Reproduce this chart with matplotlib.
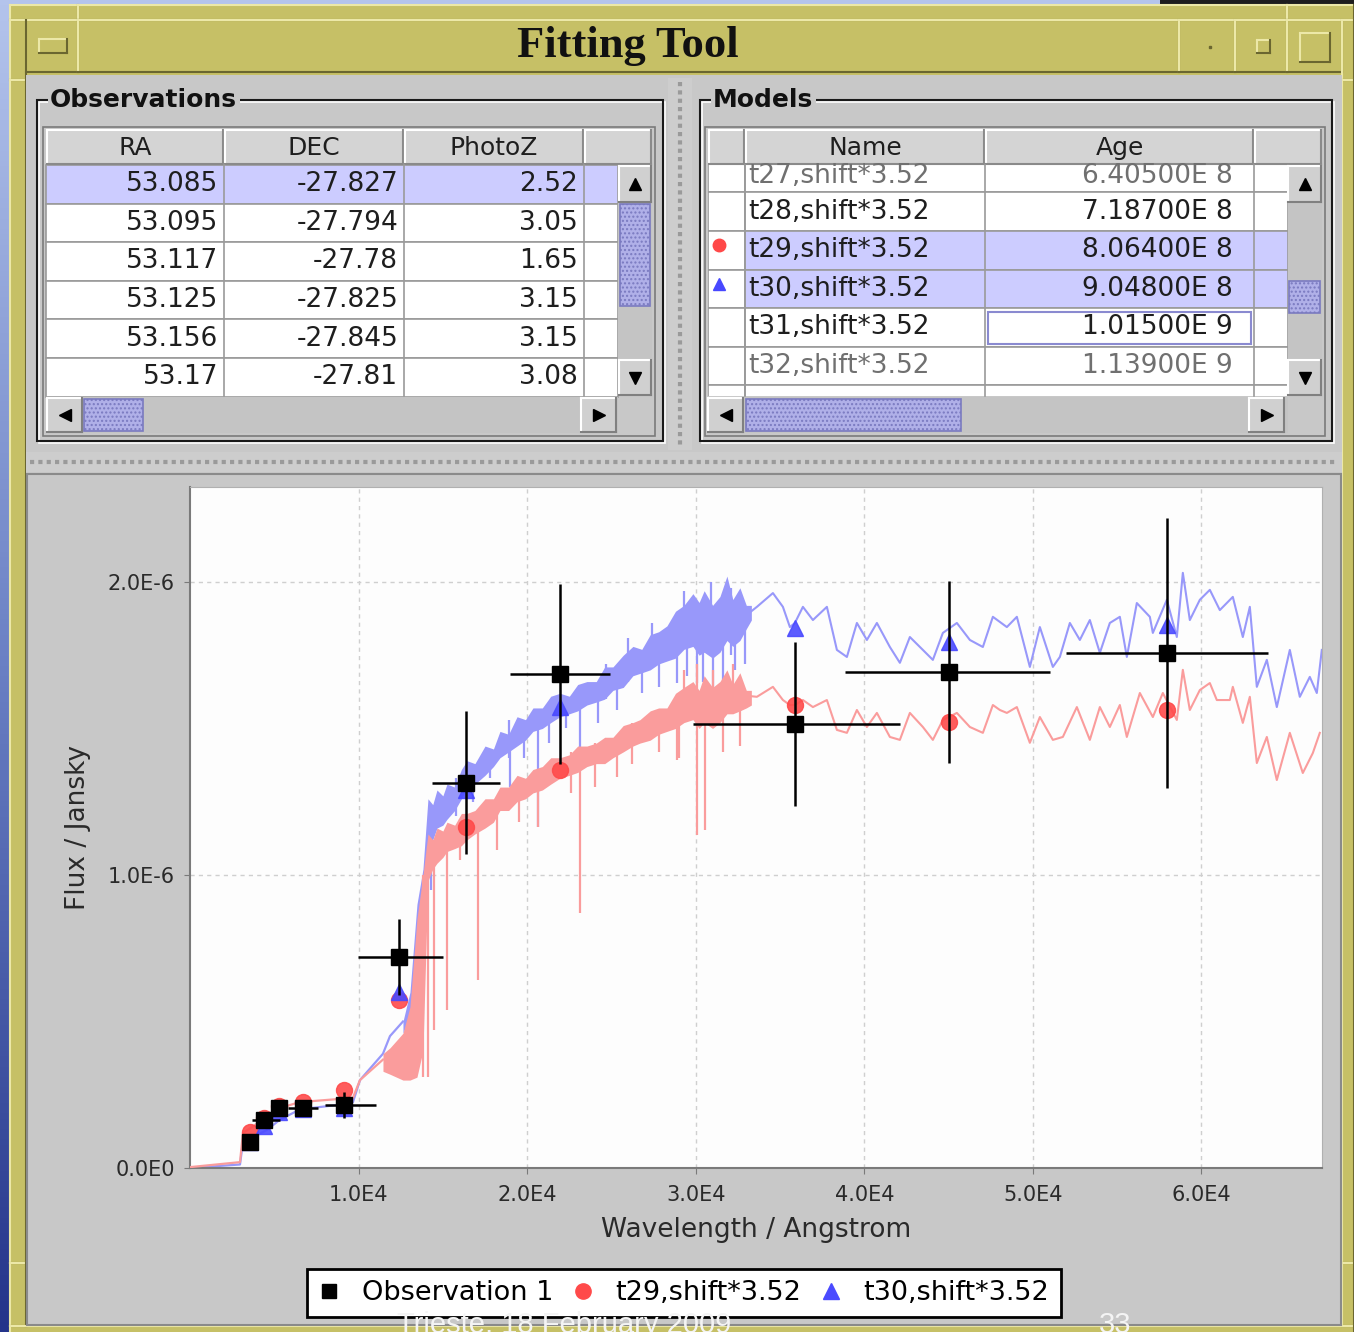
import matplotlib.pyplot as plt
import matplotlib.patches as mpatches
from matplotlib.colors import LinearSegmentedColormap
from matplotlib.lines import Line2D
import numpy as np

# ---------------- table contents ----------------
obs_cols = ['RA', 'DEC', 'PhotoZ']
obs_ra = [53.085, 53.095, 53.117, 53.125, 53.156, 53.17]
obs_dec = [-27.827, -27.794, -27.78, -27.825, -27.845, -27.81]
obs_photoz = [2.52, 3.05, 1.65, 3.15, 3.15, 3.08]

model_cols = ['Name', 'Age']
model_names = ['t27,shift*3.52', 't28,shift*3.52', 't29,shift*3.52',
               't30,shift*3.52', 't31,shift*3.52', 't32,shift*3.52']
model_ages = ['6.40500E 8', '7.18700E 8', '8.06400E 8',
              '9.04800E 8', '1.01500E 9', '1.13900E 9']

# ---------------- photometry (Angstrom, 1e-6 Jy) ----------------
obs_wave = [3559, 4389, 5279, 6702, 9134, 12396, 16370, 21945, 35884, 45018, 57948]
obs_flux = [0.089, 0.164, 0.205, 0.205, 0.215, 0.720, 1.314, 1.686, 1.515, 1.693, 1.758]
obs_xlo = [0, 700, 400, 900, 1130, 2450, 2000, 2960, 6050, 6170, 5990]
obs_xhi = [0, 950, 500, 900, 1900, 2600, 2000, 2960, 6230, 5990, 5990]
obs_ferr = [0.015, 0.02, 0.025, 0.02, 0.045, 0.13, 0.244, 0.307, 0.28, 0.31, 0.46]

t29_phot = [0.123, 0.17, 0.21, 0.225, 0.266, 0.573, 1.164, 1.358, 1.580, 1.522, 1.563]
t30_phot = [0.09, 0.145, 0.19, 0.20, 0.205, 0.60, 1.29, 1.573, 1.843, 1.795, 1.853]

# ---------------- model spectra ----------------
# blue : t30
t30_low_wave = [0, 2966, 3143, 3559, 4567, 5338, 6524, 8719, 9668, 10083, 11447, 11862, 12633]
t30_low_flux = [0.0, 0.012, 0.09, 0.10, 0.13, 0.165, 0.20, 0.215, 0.225, 0.30, 0.39, 0.45, 0.50]
t30_band_wave = [12633, 13048, 13463, 13819, 14116, 14400, 14650, 15000, 15243, 15700, 16100,
                 16429, 16900, 17500, 18000, 18386, 18900, 19400, 19900, 20343, 20900, 21400,
                 21945, 22500, 23000, 23546, 24100, 24600, 25088, 25700, 26274, 26800, 27300,
                 27800, 28291, 28800, 29300, 29833, 30200, 30500, 31000, 31434, 31850, 32200,
                 32620, 33000, 33300]
t30_band_hi = [0.50, 0.60, 0.90, 1.02, 1.26, 1.24, 1.29, 1.27, 1.31, 1.30, 1.36,
               1.39, 1.38, 1.44, 1.43, 1.49, 1.48, 1.54, 1.53, 1.57, 1.57, 1.61,
               1.62, 1.61, 1.65, 1.66, 1.66, 1.71, 1.71, 1.75, 1.78, 1.77, 1.82,
               1.83, 1.85, 1.90, 1.92, 1.96, 1.93, 1.97, 1.92, 1.95, 2.02, 1.94,
               1.98, 1.92, 1.92]
t30_band_lo = [0.46, 0.52, 0.78, 0.90, 1.10, 1.12, 1.16, 1.17, 1.19, 1.22, 1.26,
               1.30, 1.31, 1.34, 1.37, 1.40, 1.42, 1.44, 1.46, 1.49, 1.50, 1.52,
               1.54, 1.55, 1.56, 1.58, 1.59, 1.60, 1.63, 1.64, 1.68, 1.69, 1.70,
               1.72, 1.73, 1.74, 1.77, 1.78, 1.75, 1.76, 1.74, 1.76, 1.80, 1.78,
               1.80, 1.84, 1.87]
t30_spike_wave = [14300, 15800, 16800, 17800, 18900, 19000, 19800, 20640, 21300, 22300,
                  23131, 24200, 24700, 25325, 26000, 26800, 27400, 27800, 28884, 29300,
                  29500, 30070, 30426, 30900, 31000, 31612, 32100, 32300, 32900]
t30_spike_lo = [0.95, 1.20, 1.25, 1.33, 1.40, 1.30, 1.40, 1.164, 1.45, 1.50,
                1.392, 1.52, 1.60, 1.563, 1.66, 1.62, 1.72, 1.64, 1.655, 1.80,
                1.68, 1.655, 1.66, 1.78, 1.62, 1.666, 1.75, 1.70, 1.72]
t30_spike_hi = [1.20, 1.33, 1.38, 1.42, 1.53, 1.48, 1.50, 1.52, 1.58, 1.60,
                1.62, 1.64, 1.72, 1.70, 1.81, 1.76, 1.86, 1.80, 1.82, 1.97,
                1.85, 1.90, 1.92, 2.00, 1.80, 1.95, 1.98, 1.92, 1.90]
t30_spec_wave = [33300, 33629, 34578, 35171, 35586, 35883, 36358, 36951, 37780, 38374, 38967,
                 39560, 40153, 40746, 41517, 42110, 42703, 43474, 44067, 44660, 45491, 46262,
                 47033, 47626, 48456, 49049, 49820, 50414, 51185, 51600, 52193, 52786, 53379,
                 53972, 54565, 55158, 55573, 56166, 56938, 57116, 57946, 58539, 58895, 59310,
                 59903, 60496, 61089, 61860, 62453, 62869, 63284, 63877, 64470, 65241, 65834,
                 66427, 66842, 67139]
t30_spec_flux = [1.90, 1.915, 1.962, 1.915, 1.846, 1.860, 1.915, 1.870, 1.915, 1.768, 1.744,
                 1.860, 1.802, 1.860, 1.778, 1.724, 1.812, 1.768, 1.734, 1.826, 1.860, 1.802,
                 1.778, 1.881, 1.846, 1.881, 1.710, 1.846, 1.710, 1.744, 1.860, 1.802, 1.870,
                 1.758, 1.860, 1.881, 1.744, 1.928, 1.881, 1.826, 1.939, 1.812, 2.031, 1.870,
                 1.939, 1.973, 1.904, 1.949, 1.812, 1.915, 1.642, 1.734, 1.573, 1.768, 1.608,
                 1.676, 1.621, 1.768]

# red : t29
t29_low_wave = [0, 2966, 3143, 3559, 4567, 5338, 6524, 8719, 9668, 10083, 11447]
t29_low_flux = [0.003, 0.02, 0.12, 0.135, 0.175, 0.205, 0.225, 0.235, 0.24, 0.30, 0.37]
t29_band_wave = [11447, 11862, 12633, 13048, 13463, 13819, 14116, 14400, 14650, 15000, 15243,
                 15700, 16100, 16429, 16900, 17500, 18000, 18386, 18900, 19400, 19900, 20343,
                 20900, 21400, 21945, 22500, 23000, 23546, 24100, 24600, 25088, 25700, 26274,
                 26690, 27300, 27800, 28291, 28800, 29300, 29833, 30200, 30500, 31000, 31434,
                 31850, 32200, 32620, 33000, 33300]
t29_band_hi = [0.39, 0.41, 0.46, 0.55, 0.85, 1.00, 1.14, 1.12, 1.16, 1.15, 1.18,
               1.17, 1.21, 1.21, 1.22, 1.26, 1.26, 1.30, 1.30, 1.34, 1.33, 1.36,
               1.37, 1.40, 1.40, 1.41, 1.44, 1.44, 1.45, 1.47, 1.47, 1.51, 1.52,
               1.53, 1.56, 1.57, 1.57, 1.62, 1.64, 1.66, 1.63, 1.68, 1.64, 1.66,
               1.70, 1.65, 1.69, 1.63, 1.63]
t29_band_lo = [0.33, 0.32, 0.30, 0.30, 0.31, 0.40, 0.98, 1.02, 1.04, 1.06, 1.08,
               1.09, 1.10, 1.12, 1.14, 1.16, 1.18, 1.22, 1.22, 1.25, 1.26, 1.28,
               1.29, 1.31, 1.33, 1.34, 1.35, 1.37, 1.38, 1.38, 1.40, 1.42, 1.44,
               1.45, 1.46, 1.48, 1.49, 1.50, 1.52, 1.53, 1.50, 1.52, 1.50, 1.52,
               1.55, 1.55, 1.56, 1.57, 1.58]
t29_spike_wave = [13819, 14116, 14500, 15243, 16000, 17081, 18208, 19500, 20640, 22600,
                  23131, 24000, 25325, 26200, 27800, 28884, 29000, 29300, 30070, 30100,
                  30545, 31000, 31612, 32200, 32620]
t29_spike_lo = [0.31, 0.31, 0.47, 0.54, 1.05, 0.64, 1.085, 1.18, 1.164, 1.28,
                0.87, 1.30, 1.334, 1.38, 1.42, 1.392, 1.40, 1.55, 1.137, 1.55,
                1.154, 1.55, 1.42, 1.58, 1.44]
t29_spike_hi = [1.00, 1.10, 1.12, 1.15, 1.19, 1.20, 1.26, 1.32, 1.33, 1.42,
                1.40, 1.45, 1.46, 1.52, 1.56, 1.56, 1.60, 1.70, 1.62, 1.72,
                1.62, 1.70, 1.62, 1.72, 1.64]
t29_spec_wave = [33300, 33629, 34578, 35171, 35586, 35883, 36358, 36951, 37780, 38374, 38967,
                 39560, 40153, 40746, 41517, 42110, 42703, 43474, 44067, 44660, 45491, 46262,
                 47033, 47626, 48041, 48456, 49049, 49820, 50414, 51185, 51778, 52608, 53379,
                 53972, 54565, 55158, 55573, 56345, 57116, 57709, 58539, 58895, 59310, 59903,
                 60496, 60911, 61682, 61860, 62453, 62869, 63284, 63877, 64470, 65241, 66012,
                 66605, 67020]
t29_spec_flux = [1.61, 1.608, 1.642, 1.597, 1.580, 1.580, 1.597, 1.573, 1.597, 1.495, 1.485,
                 1.563, 1.505, 1.553, 1.471, 1.461, 1.553, 1.505, 1.461, 1.529, 1.553, 1.505,
                 1.485, 1.580, 1.563, 1.553, 1.573, 1.451, 1.539, 1.461, 1.471, 1.573, 1.461,
                 1.573, 1.505, 1.580, 1.471, 1.621, 1.539, 1.621, 1.529, 1.700, 1.563, 1.631,
                 1.655, 1.597, 1.597, 1.642, 1.519, 1.608, 1.382, 1.471, 1.324, 1.485, 1.348,
                 1.416, 1.485]

x_ticks = [10000, 20000, 30000, 40000, 50000, 60000]
x_ticklabels = ['1.0E4', '2.0E4', '3.0E4', '4.0E4', '5.0E4', '6.0E4']
y_ticks = [0.0, 1.0, 2.0]
y_ticklabels = ['0.0E0', '1.0E-6', '2.0E-6']

# ---------------- window chrome ----------------
W, H = 1354, 1332
fig = plt.figure(figsize=(W / 100, H / 100), dpi=100)
bg = fig.add_axes([0, 0, 1, 1])

GRAY = '#c8c8c8'
OLIVE = '#c6c066'
OL_HI = '#ece8a8'
OL_LO = '#6a6630'
LAV = '#ccccff'
BLUE_C = '#9898fa'
RED_C = '#fa9c9c'


def rect(x0, y0, x1, y1, fc, ec='none', lw=1.0, z=1, **kw):
    p = mpatches.Rectangle((x0, y0), x1 - x0, y1 - y0, facecolor=fc, edgecolor=ec,
                           linewidth=lw, zorder=z, **kw)
    bg.add_patch(p)
    return p


def bevel(x0, y0, x1, y1, fc, hi, lo, z=1, lw=1.5):
    rect(x0, y0, x1, y1, fc, z=z)
    bg.plot([x0, x1], [y0, y0], color=hi, lw=lw, zorder=z + 0.1)
    bg.plot([x0, x0], [y0, y1], color=hi, lw=lw, zorder=z + 0.1)
    bg.plot([x0, x1], [y1, y1], color=lo, lw=lw, zorder=z + 0.1)
    bg.plot([x1, x1], [y0, y1], color=lo, lw=lw, zorder=z + 0.1)


def button(x0, y0, x1, y1, arrow=None, z=3):
    bevel(x0, y0, x1, y1, '#d0d0d0', 'white', '#808080', z=z)
    if arrow:
        bg.plot((x0 + x1) / 2, (y0 + y1) / 2, marker=arrow, color='black', ms=8, zorder=z + 1)


def thumb(x0, y0, x1, y1, z=3):
    rect(x0, y0, x1, y1, '#b0b0e8', ec='#7a7ac0', lw=1.2, z=z, hatch='....')


# desktop behind the window
desk = LinearSegmentedColormap.from_list('desk', ['#b4c4ec', '#6a80c4', '#24348a'])
bg.imshow(np.linspace(0, 1, 256)[:, None], extent=(0, W, H, 0), cmap=desk, aspect='auto', zorder=0)
rect(1160, 0, W, 5, '#1e1e1e', z=0.5)

# olive frame + title bar
rect(10, 5, W, H, OLIVE, z=1)
for a, b in [(10, 78), (78, 1287), (1287, W)]:
    bevel(a, 5, b, 20, OLIVE, OL_HI, OL_LO, z=1.2)
for a, b in [(26, 78), (78, 1179), (1179, 1235), (1235, 1287), (1287, 1342)]:
    bevel(a, 20, b, 72, OLIVE, OL_HI, OL_LO, z=1.2)
for a, b in [(20, 80), (80, 1263), (1263, 1326)]:
    bevel(10, a, 26, b, OLIVE, OL_HI, OL_LO, z=1.2)
    bevel(1342, a, W, b, OLIVE, OL_HI, OL_LO, z=1.2)
bevel(10, 1326, W, H + 2, OLIVE, OL_HI, OL_LO, z=1.2)
bevel(39, 39, 67, 53, OLIVE, OL_HI, OL_LO, z=1.5)
bg.plot(1210, 47, marker='s', ms=2, color=OL_LO, zorder=2)
bevel(1257, 40, 1270, 53, OLIVE, OL_HI, OL_LO, z=1.5)
bevel(1300, 33, 1330, 62, OLIVE, OL_HI, OL_LO, z=1.5)
bg.text(628, 46, 'Fitting Tool', ha='center', va='center', fontsize=32, fontweight='bold',
        family='Liberation Serif', color='#111111', zorder=3)

# content area
rect(26, 75, 1342, 1326, GRAY, z=1.5)
rect(668, 78, 692, 450, '#cdcdcd', z=1.6)
bg.plot([680, 680], [82, 448], color='#9a9a9a', lw=3, ls=(0, (1, 1)), zorder=1.7)
rect(26, 452, 1342, 472, '#cdcdcd', z=1.6)
bg.plot([30, 1338], [462, 462], color='#9a9a9a', lw=3, ls=(0, (1, 1)), zorder=1.7)
rect(27, 474, 1341, 1325, GRAY, ec='#8a8a8a', lw=1.5, z=1.6)


def panel(x0, y0, x1, y1, title):
    rect(x0 + 1.5, y0 + 1.5, x1 + 1.5, y1 + 1.5, 'none', ec='white', lw=1.2, z=2)
    rect(x0, y0, x1, y1, 'none', ec='#1a1a1a', lw=1.5, z=2.1)
    bg.text(x0 + 13, y0, title, ha='left', va='center', fontsize=18, fontweight='bold',
            color='#111111', zorder=2.5,
            bbox=dict(boxstyle='square,pad=0.1', fc=GRAY, ec='none'))


panel(37, 100, 663, 441, 'Observations')
panel(700, 100, 1332, 441, 'Models')

TXT = '#1e1e1e'
CELL_FS = 19

# ---- observations table
rect(43, 127, 655, 436, GRAY, ec='#7a7a7a', lw=1.2, z=2.2)
obs_edges = [46, 224, 404, 584, 652]
for i in range(4):
    bevel(obs_edges[i] + 1, 130, obs_edges[i + 1] - 1, 164, '#d4d4d4', 'white', '#8a8a8a', z=2.4)
    if i < 3:
        bg.text((obs_edges[i] + obs_edges[i + 1]) / 2, 148, obs_cols[i], ha='center',
                va='center', fontsize=18, color=TXT, zorder=3)
row_h = 38.6
obs_rows = list(zip(obs_ra, obs_dec, obs_photoz))
for r, vals in enumerate(obs_rows):
    y0 = 165 + r * row_h
    rect(46, y0, 618, y0 + row_h, LAV if r == 0 else 'white', ec='#9a9a9a', lw=1.2, z=2.4)
    for c in range(3):
        bg.text(obs_edges[c + 1] - 6, y0 + row_h / 2, str(vals[c]), ha='right', va='center',
                fontsize=CELL_FS, color=TXT, zorder=3)
for xe in obs_edges[1:4]:
    bg.plot([xe, xe], [165, 396], color='#9a9a9a', lw=1.2, zorder=2.6)
rect(618, 165, 652, 396, '#c4c4c4', z=2.4)
button(619, 166, 651, 202, '^')
thumb(620, 204, 650, 306)
button(619, 360, 651, 395, 'v')
rect(46, 397, 618, 433, '#c4c4c4', z=2.4)
button(47, 398, 82, 432, '<')
thumb(84, 399, 143, 431)
button(581, 398, 616, 432, '>')

# ---- models table
rect(705, 127, 1325, 436, GRAY, ec='#7a7a7a', lw=1.2, z=2.2)
mod_edges = [708, 745, 985, 1254, 1322]
for i in range(4):
    bevel(mod_edges[i] + 1, 130, mod_edges[i + 1] - 1, 164, '#d4d4d4', 'white', '#8a8a8a', z=2.4)
    if i in (1, 2):
        bg.text((mod_edges[i] + mod_edges[i + 1]) / 2, 148, model_cols[i - 1], ha='center',
                va='center', fontsize=18, color=TXT, zorder=3)
view = mpatches.Rectangle((708, 165), 580, 231, transform=bg.transData, facecolor='none')
rect(708, 165, 1288, 396, 'white', z=2.3)
first_line = 192.3
for r in range(len(model_names) + 1):
    y0 = first_line + (r - 1) * row_h
    sel = r in (2, 3)
    p = rect(708, y0, 745, y0 + row_h, 'white', ec='#9a9a9a', lw=1.2, z=2.4)
    p.set_clip_path(view)
    p = rect(745, y0, 1288, y0 + row_h, LAV if sel else 'white', ec='#9a9a9a', lw=1.2, z=2.4)
    p.set_clip_path(view)
    if r >= len(model_names):
        continue
    col = '#707070' if r in (0, 5) else TXT
    ty = y0 + row_h / 2 + (3 if r == 0 else 0)
    t = bg.text(748, ty, model_names[r], ha='left', va='center',
                fontsize=CELL_FS, color=col, zorder=3)
    t.set_clip_path(view)
    t = bg.text(1233, ty, model_ages[r], ha='right', va='center',
                fontsize=CELL_FS, color=col, zorder=3)
    t.set_clip_path(view)
for xe in mod_edges[1:4]:
    bg.plot([xe, xe], [165, 396], color='#9a9a9a', lw=1.2, zorder=2.6)
rect(988, 312, 1251, 344, 'none', ec='#8a8ad0', lw=1.5, z=2.7)
bg.plot(719, 245, marker='o', ms=9, color='#ff4848', zorder=3)
bg.plot(719, 284, marker='^', ms=9, color='#4848ff', zorder=3)
rect(1288, 165, 1322, 396, '#c4c4c4', z=2.4)
button(1288, 166, 1321, 202, '^')
thumb(1289, 281, 1320, 313)
button(1288, 360, 1321, 395, 'v')
rect(708, 397, 1288, 433, '#c4c4c4', z=2.4)
button(708, 398, 743, 432, '<')
thumb(746, 399, 961, 431)
button(1249, 398, 1284, 432, '>')

bg.set_xlim(0, W)
bg.set_ylim(H, 0)
bg.axis('off')

# ---------------- SED plot ----------------
ax = fig.add_axes([190 / W, (H - 1168) / H, (1322 - 190) / W, (1168 - 487) / H])
ax.set_facecolor('#fdfdfd')

ax.plot(t30_low_wave, t30_low_flux, color=BLUE_C, lw=1.6, zorder=2)
ax.fill_between(t30_band_wave, t30_band_lo, t30_band_hi, color=BLUE_C, lw=0, zorder=2)
ax.vlines(t30_spike_wave, t30_spike_lo, t30_spike_hi, color=BLUE_C, lw=1.6, zorder=2)
ax.plot(t30_spec_wave, t30_spec_flux, color=BLUE_C, lw=1.5, zorder=2)

ax.plot(t29_low_wave, t29_low_flux, color=RED_C, lw=1.6, zorder=3)
ax.fill_between(t29_band_wave, t29_band_lo, t29_band_hi, color=RED_C, lw=0, zorder=3)
ax.vlines(t29_spike_wave, t29_spike_lo, t29_spike_hi, color=RED_C, lw=1.6, zorder=3)
ax.plot(t29_spec_wave, t29_spec_flux, color=RED_C, lw=1.5, zorder=3)

ax.plot(obs_wave, t29_phot, 'o', color='#ff4a4a', ms=11.5, alpha=0.9, zorder=4)
ax.plot(obs_wave, t30_phot, '^', color='#4a4aff', ms=11, alpha=0.9, zorder=4)
ax.errorbar(obs_wave, obs_flux, xerr=[obs_xlo, obs_xhi], yerr=obs_ferr, fmt='s',
            color='black', ms=12, elinewidth=1.8, capsize=0, zorder=5)

ax.set_xlim(0, 67150)
ax.set_ylim(0, 2.324)
ax.set_xticks(x_ticks)
ax.set_xticklabels(x_ticklabels)
ax.set_yticks(y_ticks)
ax.set_yticklabels(y_ticklabels)
ax.grid(True, color='#cfcfcf', lw=1, ls=(0, (3, 3)))
ax.set_axisbelow(True)
for s in ['top', 'right']:
    ax.spines[s].set_color('#b0b0b0')
for s in ['left', 'bottom']:
    ax.spines[s].set_color('#7a7a7a')
    ax.spines[s].set_linewidth(1.5)
ax.tick_params(direction='out', length=4, color='#7a7a7a', labelsize=15,
               labelcolor='#2a2a2a')
ax.tick_params(axis='x', pad=8)
ax.tick_params(axis='y', pad=7)
ax.set_xlabel('Wavelength / Angstrom', fontsize=19, color='#2a2a2a', labelpad=9)
ax.set_ylabel('Flux / Jansky', fontsize=19, color='#2a2a2a', labelpad=12)

handles = [Line2D([], [], marker='s', ls='none', color='black', ms=10),
           Line2D([], [], marker='o', ls='none', color='#ff4a4a', ms=11),
           Line2D([], [], marker='^', ls='none', color='#4a4aff', ms=11)]
leg = ax.legend(handles, ['Observation 1', 't29,shift*3.52', 't30,shift*3.52'], ncol=3,
                loc='center', bbox_to_anchor=(684 / W, 1 - 1293 / H),
                bbox_transform=fig.transFigure, fontsize=19.5, frameon=True, fancybox=False,
                handlelength=0.8, handletextpad=0.8, columnspacing=0.7, borderpad=0.42)
leg.get_frame().set_edgecolor('black')
leg.get_frame().set_linewidth(2)
leg.get_frame().set_facecolor('white')
leg.get_frame().set_alpha(1)

# slide footer overlapping the window (cut by the lower edge, as in the screenshot)
fig.text(564 / W, 1 - 1311 / H, 'Trieste, 18 February 2009', ha='center', va='top',
         fontsize=21, family='Liberation Sans', color='#f4f4f4', zorder=10)
fig.text(1115 / W, 1 - 1311 / H, '33', ha='center', va='top',
         fontsize=21, family='Liberation Sans', color='#f4f4f4', zorder=10)

fig.savefig('out.png', dpi=100)
